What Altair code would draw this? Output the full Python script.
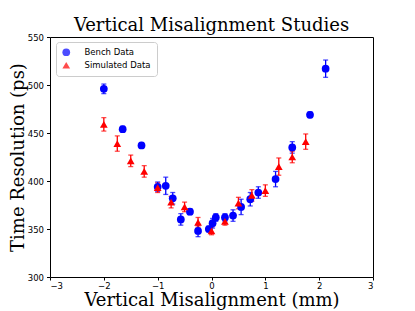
import altair as alt
import pandas as pd

bench_x = [-2.0, -1.65, -1.3, -1.0, -0.85, -0.72, -0.57, -0.4, -0.25, -0.05, 0.02, 0.08, 0.25, 0.4, 0.55, 0.72, 0.87, 1.19, 1.5, 1.83, 2.12]
bench_y = [496, 454, 437, 394, 395, 382, 360, 368, 348, 350, 356, 362, 362, 364, 373, 381, 388, 402, 435, 469, 517]
bench_err = [5, 3, 3, 5, 9, 6, 6, 3, 6, 3, 5, 4, 4, 6, 8, 7, 6, 8, 6, 3, 9]

sim_x = [-2.0, -1.75, -1.5, -1.25, -1.0, -0.75, -0.5, -0.25, 0.0, 0.25, 0.5, 0.75, 1.0, 1.25, 1.5, 1.75]
sim_y = [459, 439, 421, 410, 393, 378, 373, 357, 348, 358, 377, 385, 390, 415, 425, 441]
sim_err = [7, 8, 6, 6, 5, 6, 5, 5, 4, 4, 6, 6, 6, 9, 6, 8]

series = ["Bench Data", "Simulated Data"]
colors = ["#0000ff", "#ff0000"]
shapes = ["circle", "triangle-up"]

rows = []
for x, y, e in zip(bench_x, bench_y, bench_err):
    rows.append({"x": x, "y": y, "err": e, "series": series[0]})
for x, y, e in zip(sim_x, sim_y, sim_err):
    rows.append({"x": x, "y": y, "err": e, "series": series[1]})
df = pd.DataFrame(rows)

xs = alt.Scale(domain=[-3, 3], nice=False)
ys = alt.Scale(domain=[300, 550], nice=False)
cs = alt.Scale(domain=series, range=colors)
ss = alt.Scale(domain=series, range=shapes)

xtitle = "Vertical Misalignment (mm)"
ytitle = "Time Resolution (ps)"
xaxis = alt.Axis(values=[-3, -2, -1, 0, 1, 2, 3], format="d")
yaxis = alt.Axis(values=[300, 350, 400, 450, 500, 550])
leg = alt.Legend(title=None)

base = alt.Chart(df)

bars = base.mark_errorbar(ticks={"size": 5, "thickness": 1.3}, thickness=1.3).encode(
    x=alt.X("x:Q", scale=xs, title=xtitle, axis=xaxis),
    y=alt.Y("y:Q", scale=ys, title=ytitle, axis=yaxis),
    yError="err:Q",
    color=alt.Color("series:N", scale=cs, legend=leg),
)

pts = base.mark_point(filled=True, size=60, opacity=1).encode(
    x=alt.X("x:Q", scale=xs, title=xtitle, axis=xaxis),
    y=alt.Y("y:Q", scale=ys, title=ytitle, axis=yaxis),
    color=alt.Color("series:N", scale=cs, legend=leg),
    shape=alt.Shape("series:N", scale=ss, legend=leg),
)

chart = alt.layer(bars, pts).properties(
    width=323,
    height=240,
    title=alt.TitleParams("Vertical Misalignment Studies", font="DejaVu Serif",
                          fontSize=18, fontWeight="normal", color="black",
                          anchor="middle", offset=-2),
    autosize=alt.AutoSizeParams(type="none"),
    padding={"left": 42, "top": 29, "right": 30, "bottom": 33},
).configure_view(
    stroke="black", strokeWidth=1
).configure_axis(
    grid=False, domain=False, tickColor="black", tickSize=3.5, tickWidth=1,
    labelFont="DejaVu Sans", labelFontSize=8.5, labelColor="black",
    titleFont="DejaVu Serif", titleFontSize=18, titleFontWeight="normal",
    titleColor="black", labelPadding=3,
).configure_axisX(
    titlePadding=1, labelPadding=1.5, tickSize=3,
).configure_axisY(
    titlePadding=0,
).configure_legend(
    orient="none", legendX=6, legendY=5, fillColor="white", strokeColor="#cccccc",
    cornerRadius=3, padding=6, labelFont="DejaVu Sans", labelFontSize=8.5,
    labelColor="black", symbolSize=60, rowPadding=4, labelOffset=14,
    symbolStrokeWidth=0,
)

chart.save("out.html", embed_options={"renderer": "svg", "actions": False})
